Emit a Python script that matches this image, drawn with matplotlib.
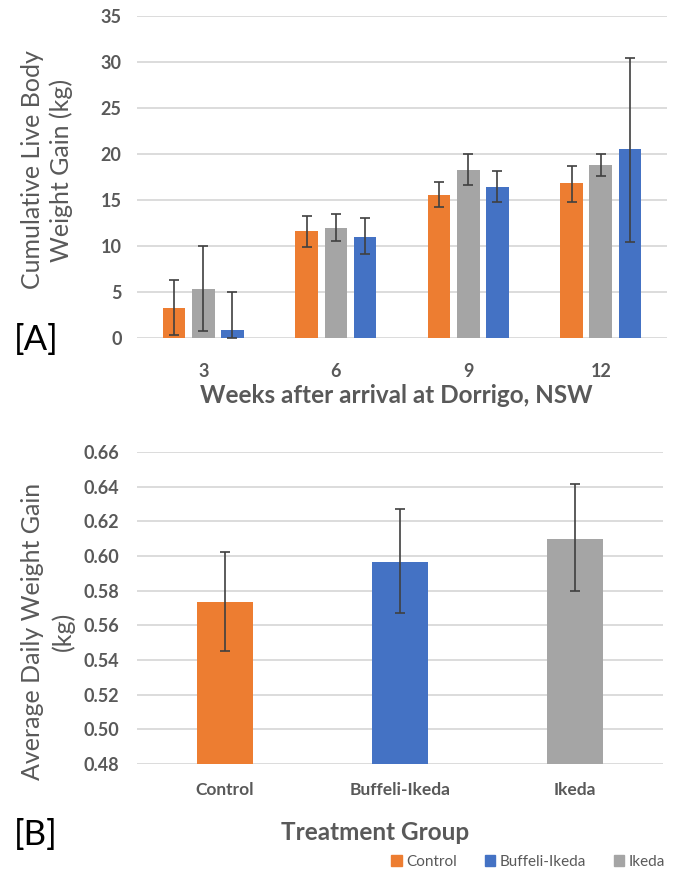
import matplotlib.pyplot as plt
import numpy as np

plt.rcParams['font.family'] = ['Lato', 'DejaVu Sans']

# panel A data: cumulative live body weight gain (kg)
weeks = ['3', '6', '9', '12']
series_a = ['Control', 'Ikeda', 'Buffeli-Ikeda']
gain_mean = {
    'Control': [3.3, 11.6, 15.5, 16.8],
    'Ikeda': [5.3, 12.0, 18.3, 18.8],
    'Buffeli-Ikeda': [0.9, 11.0, 16.4, 20.5],
}
gain_lo = {
    'Control': [0.3, 9.9, 14.2, 14.8],
    'Ikeda': [0.8, 10.5, 16.6, 17.6],
    'Buffeli-Ikeda': [0.0, 9.1, 14.8, 10.4],
}
gain_hi = {
    'Control': [6.3, 13.3, 17.0, 18.7],
    'Ikeda': [10.0, 13.5, 20.0, 20.0],
    'Buffeli-Ikeda': [5.0, 13.0, 18.2, 30.4],
}

# panel B data: average daily weight gain (kg)
groups = ['Control', 'Buffeli-Ikeda', 'Ikeda']
adg_mean = [0.5735, 0.5967, 0.610]
adg_lo = [0.545, 0.567, 0.5797]
adg_hi = [0.6024, 0.6271, 0.6414]

colors = {'Control': '#ED7D31', 'Buffeli-Ikeda': '#4472C4', 'Ikeda': '#A5A5A5'}
txt = '#595959'
grid = '#D9D9D9'
errc = '#404040'

fig = plt.figure(figsize=(6.73, 8.74), dpi=100)

# ---- panel A ----
ax1 = fig.add_axes([0.2036, 0.6133, 0.7875, 0.3684])
x = np.arange(len(weeks))
w = 0.17
for i, s in enumerate(series_a):
    m = np.array(gain_mean[s])
    lo = m - np.array(gain_lo[s])
    hi = np.array(gain_hi[s]) - m
    ax1.bar(x + (i - 1) * 0.22, m, w, color=colors[s], zorder=3)
    ax1.errorbar(x + (i - 1) * 0.22, m, yerr=[lo, hi], fmt='none', ecolor=errc,
                 elinewidth=1.2, capsize=3.5, capthick=1.2, zorder=4)
ax1.set_xlim(-0.5, 3.5)
ax1.set_ylim(0, 35)
ax1.set_yticks(np.arange(0, 36, 5))
ax1.set_xticks(x)
ax1.set_xticklabels(weeks)
ax1.yaxis.grid(True, color=grid, linewidth=1.3, zorder=0)
for sp in ax1.spines.values():
    sp.set_visible(False)
ax1.tick_params(length=0, labelsize=13, labelcolor=txt, pad=11)
ax1.tick_params(axis='x', pad=18)
for lab in ax1.get_yticklabels() + ax1.get_xticklabels():
    lab.set_fontweight('bold')

fig.text(47 / 673, 1 - 170 / 874, 'Cumulative Live Body\nWeight Gain (kg)', rotation=90,
         ha='center', va='center', multialignment='center', fontsize=18, color=txt,
         linespacing=1.25)
fig.text(396 / 673, 1 - 395 / 874, 'Weeks after arrival at Dorrigo, NSW', ha='center',
         va='center', fontsize=17.5, color=txt, fontweight='bold')
fig.text(36 / 673, 1 - 340 / 874, '[A]', ha='center', va='center', fontsize=25, color='black')

# ---- panel B ----
ax2 = fig.add_axes([0.2036, 0.1259, 0.7816, 0.357])
xb = np.arange(len(groups))
m = np.array(adg_mean)
ax2.bar(xb, m - 0.48, 0.32, bottom=0.48, color=[colors[g] for g in groups], zorder=3)
ax2.errorbar(xb, m, yerr=[m - np.array(adg_lo), np.array(adg_hi) - m], fmt='none',
             ecolor=errc, elinewidth=1.2, capsize=3.5, capthick=1.2, zorder=4)
ax2.set_xlim(-0.5, 2.5)
ax2.set_ylim(0.48, 0.66)
ax2.set_yticks(np.arange(0.48, 0.661, 0.02))
ax2.set_yticklabels(['%.2f' % v for v in np.arange(0.48, 0.661, 0.02)])
ax2.set_xticks(xb)
ax2.set_xticklabels(groups)
ax2.yaxis.grid(True, color=grid, linewidth=1.3, zorder=0)
for sp in ax2.spines.values():
    sp.set_visible(False)
ax2.tick_params(length=0, labelsize=13, labelcolor=txt, pad=13)
ax2.tick_params(axis='x', labelsize=12.5, pad=13)
for lab in ax2.get_yticklabels() + ax2.get_xticklabels():
    lab.set_fontweight('bold')

fig.text(48 / 673, 1 - 631 / 874, 'Average Daily Weight Gain\n(kg)', rotation=90,
         ha='center', va='center', multialignment='center', fontsize=18, color=txt,
         linespacing=1.35)
fig.text(375 / 673, 1 - 833 / 874, 'Treatment Group', ha='center', va='center',
         fontsize=17.5, color=txt, fontweight='bold')
fig.text(36 / 673, 1 - 835 / 874, '[B]', ha='center', va='center', fontsize=25, color='black')

handles = [plt.Rectangle((0, 0), 1, 1, color=colors[g]) for g in groups]
fig.legend(handles, groups, loc='center right', bbox_to_anchor=(1.0, 1 - 862 / 874),
           ncol=3, frameon=False, fontsize=11, labelcolor=txt, handlelength=0.7,
           handleheight=0.7, handletextpad=0.3, columnspacing=1.8, borderaxespad=0.1)

fig.savefig('out.png', dpi=100)
